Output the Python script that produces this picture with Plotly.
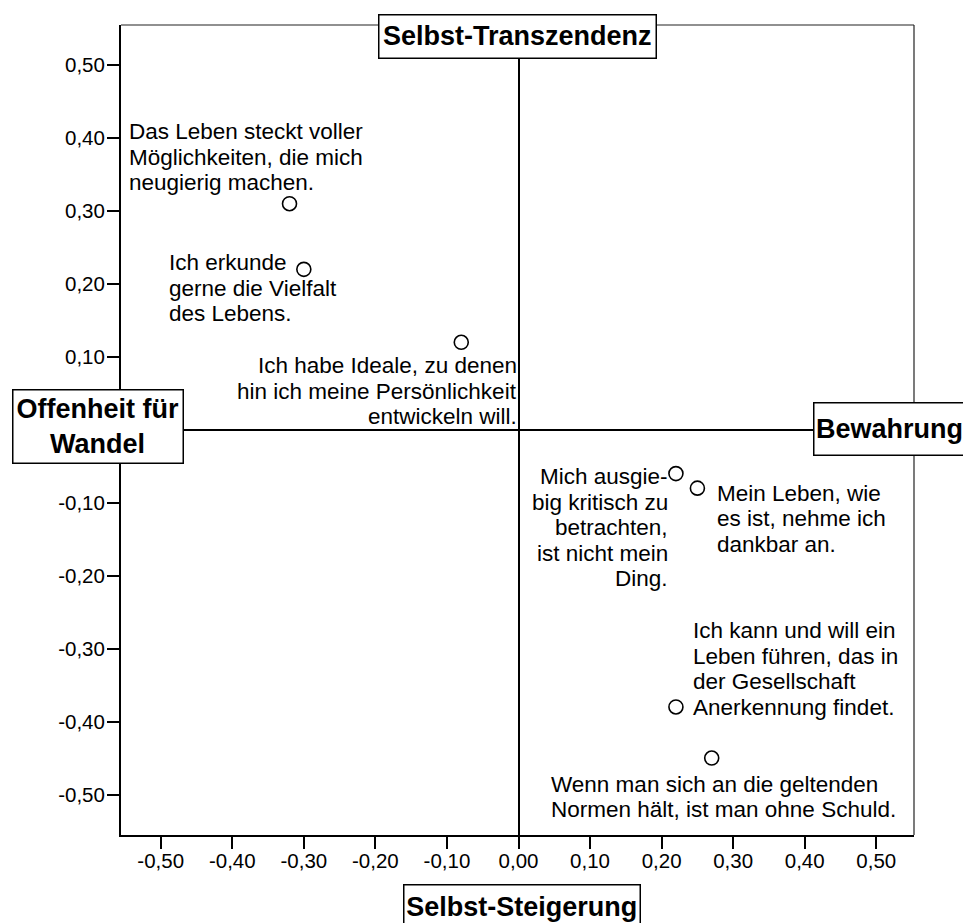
import plotly.graph_objects as go

# ---- data ----
x_vals = [-0.32, -0.30, -0.08, 0.22, 0.25, 0.22, 0.27]
y_vals = [0.31, 0.22, 0.12, -0.06, -0.08, -0.38, -0.45]
item_labels = [
    ["Das Leben steckt voller", "Möglichkeiten, die mich", "neugierig machen."],
    ["Ich erkunde", "gerne die Vielfalt", "des Lebens."],
    ["Ich habe Ideale, zu denen", "hin ich meine Persönlichkeit", "entwickeln will."],
    ["Mich ausgie-", "big kritisch zu", "betrachten,", "ist nicht mein", "Ding."],
    ["Mein Leben, wie", "es ist, nehme ich", "dankbar an."],
    ["Ich kann und will ein", "Leben führen, das in", "der Gesellschaft", "Anerkennung findet."],
    ["Wenn man sich an die geltenden", "Normen hält, ist man ohne Schuld."],
]
x_ticks = [-0.5, -0.4, -0.3, -0.2, -0.1, 0.0, 0.1, 0.2, 0.3, 0.4, 0.5]
x_ticktext = ["-0,50", "-0,40", "-0,30", "-0,20", "-0,10", "0,00", "0,10", "0,20", "0,30", "0,40", "0,50"]
y_ticks = [-0.5, -0.4, -0.3, -0.2, -0.1, 0.1, 0.2, 0.3, 0.4, 0.5]
y_ticktext = ["-0,50", "-0,40", "-0,30", "-0,20", "-0,10", "0,10", "0,20", "0,30", "0,40", "0,50"]
pole_top = "Selbst-Transzendenz"
pole_left = "Offenheit für<br>Wandel"
pole_right = "Bewahrung"
pole_bottom = "Selbst-Steigerung"

# ---- layout / style ----
FONT = "Liberation Sans, Arial, Helvetica, sans-serif"
# (anchor side, x shift of anchored edge in px, first-line centre offset below marker in px)
label_pos = [
    ("left", -160.5, -72.3),
    ("left", -135.1, -6.6),
    ("right", 55.7, 23.2),
    ("right", -7.9, 3.0),
    ("left", 19.3, 5.0),
    ("left", 17.4, -76.3),
    ("left", -160.7, 26.2),
]
LINE_H = 25.6
TXT = 22.5

fig = go.Figure()
fig.add_trace(go.Scatter(
    x=x_vals, y=y_vals, mode="markers",
    marker=dict(symbol="circle-open", size=14, color="black", line=dict(width=1.6)),
    hoverinfo="skip", showlegend=False,
))

annotations = []
for xv, yv, lines, (side, dx, dy) in zip(x_vals, y_vals, item_labels, label_pos):
    for i, ln in enumerate(lines):
        annotations.append(dict(
            x=xv, y=yv, xref="x", yref="y", text=ln, showarrow=False,
            xanchor=side, yanchor="middle", align=side,
            xshift=dx, yshift=-(dy + i * LINE_H),
            borderpad=0, borderwidth=0,
            font=dict(family=FONT, size=TXT, color="black"),
        ))

def pole(text, x, y, w, h):
    return dict(
        x=x, y=y, xref="paper", yref="paper", text="<b>" + text + "</b>",
        showarrow=False, xanchor="center", yanchor="middle", align="center",
        width=w, height=h, bgcolor="white", bordercolor="black",
        borderwidth=1.5, borderpad=0,
        font=dict(family=FONT, size=27, color="black"),
    )

annotations += [
    pole(pole_top, 0.5, 0.9858, 275.5, 41.5),
    pole(pole_left, -0.029, 0.5043, 168.5, 71.5),
    pole(pole_right, 0.9697, 0.5012, 150, 50.5),
    pole(pole_bottom, 0.5057, -0.0883, 234.5, 43),
]

axis_common = dict(
    showgrid=False, ticks="outside", ticklen=12, tickwidth=2, tickcolor="black",
    showline=True, linecolor="black", linewidth=2,
    zeroline=True, zerolinecolor="black", zerolinewidth=1.5,
    tickfont=dict(family=FONT, size=20.5, color="black"),
    fixedrange=True,
)

fig.update_layout(
    width=963, height=923,
    margin=dict(l=121, r=49, t=25, b=88, pad=0),
    paper_bgcolor="white", plot_bgcolor="white",
    xaxis=dict(range=[-0.5555, 0.5527], tickvals=x_ticks, ticktext=x_ticktext,
               ticklabelstandoff=-6, **axis_common),
    yaxis=dict(range=[-0.5555, 0.555], tickvals=y_ticks, ticktext=y_ticktext,
               ticklabelstandoff=-2, **axis_common),
    annotations=annotations,
    shapes=[
        dict(type="line", xref="paper", yref="paper", x0=0, x1=1, y0=1, y1=1,
             line=dict(color="#222", width=1.2)),
        dict(type="line", xref="paper", yref="paper", x0=1, x1=1, y0=0, y1=1,
             line=dict(color="#222", width=1.2)),
    ],
    showlegend=False,
)

fig.write_html(
    "out.html",
    config={"displayModeBar": False},
    post_script="document.body.style.margin='0px';document.body.style.overflow='hidden';",
)
